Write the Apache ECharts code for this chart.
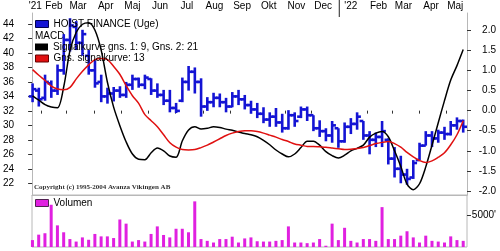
<!DOCTYPE html>
<html>
<head>
<meta charset="utf-8">
<script src="https://cdn.jsdelivr.net/npm/echarts@6/dist/echarts.min.js"></script>
<style>
html, body { margin: 0; padding: 0; background: #fff; }
#chart { width: 500px; height: 251px; }
</style>
</head>
<body>
<div id="chart"></div>
<script>
// ugedata (fredage)
const weeks = [
  '2021-01-22','2021-01-29','2021-02-05','2021-02-12','2021-02-19','2021-02-26','2021-03-05','2021-03-12','2021-03-19','2021-03-26',
  '2021-04-02','2021-04-09','2021-04-16','2021-04-23','2021-04-30','2021-05-07','2021-05-14','2021-05-21','2021-05-28','2021-06-04',
  '2021-06-11','2021-06-18','2021-06-25','2021-07-02','2021-07-09','2021-07-16','2021-07-23','2021-07-30','2021-08-06','2021-08-13',
  '2021-08-20','2021-08-27','2021-09-03','2021-09-10','2021-09-17','2021-09-24','2021-10-01','2021-10-08','2021-10-15','2021-10-22',
  '2021-10-29','2021-11-05','2021-11-12','2021-11-19','2021-11-26','2021-12-03','2021-12-10','2021-12-17','2021-12-24','2021-12-31',
  '2022-01-07','2022-01-14','2022-01-21','2022-01-28','2022-02-04','2022-02-11','2022-02-18','2022-02-25','2022-03-04','2022-03-11',
  '2022-03-18','2022-03-25','2022-04-01','2022-04-08','2022-04-15','2022-04-22','2022-04-29','2022-05-06','2022-05-13','2022-05-20'
];
const openP = [34.0,34.8,33.8,35.8,34.8,37.6,41.8,43.6,41.4,39.6,37.6,36.0,34.0,34.4,34.8,34.2,35.6,36.4,35.6,36.4,
  34.8,34.2,33.4,32.4,33.4,36.0,37.4,36.0,32.6,33.2,33.8,33.2,32.6,34.0,33.6,32.8,32.2,31.6,30.8,31.2,
  30.4,29.6,31.4,31.2,32.2,31.4,29.6,29.2,28.6,29.6,27.8,29.8,30.2,30.6,28.6,28.0,28.4,28.0,25.4,24.0,
  23.2,22.8,25.2,27.2,28.6,28.2,29.0,28.8,30.0,30.6];
const closeP = [35.0,33.6,36.0,34.8,37.6,41.8,43.8,41.4,42.6,37.6,35.8,34.0,34.4,34.8,34.2,35.6,36.4,35.6,36.6,34.8,
  34.2,33.4,32.4,32.0,36.0,37.4,36.0,32.6,33.2,33.8,33.2,32.6,34.0,33.6,32.8,32.2,31.6,30.8,31.2,30.4,
  29.6,31.4,30.6,32.2,31.4,29.6,29.2,28.6,30.0,27.8,29.8,30.2,31.2,28.6,28.0,28.4,29.2,25.4,24.0,23.2,
  22.6,24.8,27.2,28.6,28.2,29.0,28.8,30.0,30.6,29.8];
const lowP = [33.2,32.6,33.4,33.8,34.2,37.0,40.2,40.4,39.6,37.0,35.2,33.2,33.0,33.3,33.8,33.8,34.9,35.2,35.0,34.2,
  33.8,32.8,31.8,31.7,33.2,34.8,34.4,31.2,32.0,32.5,32.5,31.8,32.5,32.8,32.2,31.6,31.0,30.3,29.8,29.8,
  29.0,29.4,29.8,31.0,30.6,29.2,28.4,27.8,27.6,26.9,27.6,28.8,29.4,28.0,26.0,27.0,27.0,24.6,22.8,22.0,
  21.8,22.6,25.2,27.2,27.0,27.6,28.0,28.6,29.4,29.0];
const highP = [35.8,35.2,37.0,36.2,38.4,42.6,44.8,44.4,43.2,40.4,39.0,37.0,35.2,35.3,35.4,36.0,37.0,36.6,37.0,36.5,
  35.8,34.9,34.9,33.1,36.6,38.2,38.0,36.5,33.9,34.5,34.4,33.8,34.6,34.9,34.2,33.4,33.1,32.5,31.8,32.4,
  31.6,32.1,31.8,32.6,32.6,31.4,30.7,29.6,30.6,29.6,30.4,31.0,31.8,30.6,29.2,29.0,30.6,28.2,27.0,25.8,
  24.0,25.2,27.6,29.2,29.2,29.4,29.8,30.6,31.1,30.8];
// MACD: signalkurve (sort) og gns. signalkurve (rød)
const macdLine = [0.37,0.26,0.15,0.09,0.07,0.6,1.5,1.95,2.15,2.19,2.0,1.5,0.7,0.08,-0.38,-0.78,-1.08,-1.21,-1.22,-1.05,
  -0.93,-1.0,-1.13,-1.16,-0.75,-0.48,-0.40,-0.46,-0.44,-0.40,-0.42,-0.46,-0.49,-0.53,-0.57,-0.60,-0.65,-0.74,-0.85,-0.98,
  -1.08,-1.15,-1.08,-0.92,-0.76,-0.76,-0.86,-1.02,-1.12,-1.18,-1.11,-1.0,-0.94,-0.86,-0.66,-0.56,-0.52,-0.65,-1.0,-1.39,
  -1.83,-1.97,-1.82,-1.4,-0.86,-0.3,0.25,0.76,1.12,1.52];
const signalLine = [1.02,0.88,0.75,0.61,0.54,0.52,0.58,0.79,0.98,1.14,1.27,1.30,1.27,1.10,0.90,0.62,0.37,0.18,-0.10,-0.25,
  -0.40,-0.60,-0.80,-0.91,-0.97,-0.98,-0.97,-0.92,-0.86,-0.78,-0.70,-0.62,-0.56,-0.52,-0.50,-0.50,-0.52,-0.56,-0.61,-0.66,
  -0.72,-0.77,-0.83,-0.86,-0.89,-0.89,-0.90,-0.91,-0.93,-0.95,-0.97,-0.96,-0.94,-0.92,-0.87,-0.82,-0.79,-0.77,-0.82,-0.91,
  -1.04,-1.15,-1.24,-1.29,-1.25,-1.16,-1.05,-0.85,-0.6,-0.25];
// volumen (tusinder)
const volume = [1080,1930,2150,6600,3380,2300,1240,850,1500,1130,2040,1660,1660,1400,4300,3650,850,1080,850,2040,
  3220,1880,1500,2850,2850,2300,7130,1240,960,700,1240,1240,1610,700,1340,
  1500,900,850,850,960,1080,3220,700,700,600,700,1240,200,3650,1080,3000,960,700,1240,1240,
  960,6230,1240,1240,1770,2460,1500,700,1770,960,850,700,1660,1080,960];

const priceTicks = [22,24,26,28,30,32,34,36,38,40,42,44];
const macdTicks = [-2,-1.5,-1,-0.5,0,0.5,1,1.5,2];
const volumeTicks = [5000];
const monthTicks = ['2021-02-01','2021-03-01','2021-04-01','2021-05-01','2021-06-01','2021-07-01','2021-08-01','2021-09-01',
  '2021-10-01','2021-11-01','2021-12-01','2022-02-01','2022-03-01','2022-04-01','2022-05-01'];
const yearTicks = ['2022-01-01'];
const monthLabelDates = ['2021-01-25','2021-02-15','2021-03-14','2021-04-14','2021-05-14','2021-06-14','2021-07-14','2021-08-14',
  '2021-09-14','2021-10-14','2021-11-14','2021-12-14','2022-01-14','2022-02-14','2022-03-14','2022-04-14','2022-05-11'];
const monthLabels = ["'21",'Feb','Mar','Apr','Maj','Jun','Jul','Aug','Sep','Okt','Nov','Dec',"'22",'Feb','Mar','Apr','Maj'];

const t = s => new Date(s).getTime();
const xMin = t('2021-01-21T12:00:00Z');
const xMax = t('2022-05-24T06:00:00Z');
const labelTimes = monthLabelDates.map(t);

const font = "'Liberation Sans', Arial, sans-serif";
const fs = 10;
const blue = '#1414d4';
const grey = '#b8b8b8';

const chart = echarts.init(document.getElementById('chart'));

const baseGraphic = [
  { id: 'macdTitle', type: 'text', left: 35, top: 31, style: { text: 'MACD', fontSize: fs, fontFamily: font, fill: '#000' } },
  { id: 'copy', type: 'text', left: 34, top: 184, style: { text: 'Copyright (c) 1995-2004 Avanza Vikingen AB', fontSize: 7, fontWeight: 'bold', fontFamily: "'Liberation Serif', serif", fill: '#333' } }
];

const option = {
  backgroundColor: '#fff',
  animation: false,
  textStyle: { fontFamily: font },
  grid: [
    { left: 32, right: 33, top: 13, bottom: 56 },
    { left: 32, right: 33, top: 195, bottom: 4, show: true, borderColor: grey, borderWidth: 1 }
  ],
  legend: [
    {
      data: [{ name: 'HOIST FINANCE (Uge)', icon: 'rect', itemStyle: { color: blue, borderColor: '#000050', borderWidth: 1 } }],
      left: 35, top: 19, padding: 0, itemWidth: 13, itemHeight: 7, itemGap: 2,
      textStyle: { fontSize: fs, color: '#000', fontFamily: font }
    },
    {
      data: [{ name: 'Signalkurve gns. 1: 9, Gns. 2: 21', icon: 'rect', itemStyle: { color: '#000', borderWidth: 0 } }],
      left: 35, top: 42, padding: 0, itemWidth: 13, itemHeight: 7,
      textStyle: { fontSize: fs, color: '#000', fontFamily: font }
    },
    {
      data: [{ name: 'Gns. signalkurve: 13', icon: 'rect', itemStyle: { color: '#e01010', borderColor: '#600', borderWidth: 1 } }],
      left: 35, top: 53.5, padding: 0, itemWidth: 13, itemHeight: 7,
      textStyle: { fontSize: fs, color: '#000', fontFamily: font }
    },
    {
      data: [{ name: 'Volumen', icon: 'rect', itemStyle: { color: '#e020e0', borderColor: '#502050', borderWidth: 1 } }],
      left: 35, top: 198, padding: 0, itemWidth: 13, itemHeight: 7,
      textStyle: { fontSize: fs, color: '#000', fontFamily: font }
    }
  ],
  graphic: baseGraphic,
  xAxis: [
    {
      gridIndex: 0, type: 'value', position: 'top', min: xMin, max: xMax,
      axisLine: { show: false },
      splitLine: { show: false },
      axisTick: { show: true, inside: true, length: 3, customValues: monthTicks.map(t), lineStyle: { color: '#333' } },
      axisLabel: {
        customValues: labelTimes, margin: 2, fontSize: fs, color: '#000', fontFamily: font,
        hideOverlap: false,
        formatter: v => { const i = labelTimes.indexOf(v); return i >= 0 ? monthLabels[i] : ''; }
      }
    },
    {
      gridIndex: 0, type: 'value', position: 'bottom', min: xMin, max: xMax,
      axisLine: { show: true, lineStyle: { color: grey } },
      axisTick: { show: false }, axisLabel: { show: false }, splitLine: { show: false }
    },
    {
      gridIndex: 1, type: 'value', min: xMin, max: xMax,
      axisLine: { show: false }, axisTick: { show: false }, axisLabel: { show: false }, splitLine: { show: false }
    }
  ],
  yAxis: [
    {
      gridIndex: 0, type: 'value', position: 'left', min: 20.38, max: 45.52,
      axisLine: { show: true, lineStyle: { color: grey } },
      splitLine: { show: false },
      axisTick: { show: true, length: 4, customValues: priceTicks, lineStyle: { color: '#333' } },
      axisLabel: { customValues: priceTicks, margin: 18, fontSize: fs, color: '#000', fontFamily: font, align: 'right' }
    },
    {
      gridIndex: 0, type: 'value', position: 'right', min: -2.1, max: 2.43,
      axisLine: { show: true, lineStyle: { color: grey } },
      splitLine: { show: false },
      axisTick: { show: true, length: 4, customValues: macdTicks, lineStyle: { color: '#333' } },
      axisLabel: { customValues: macdTicks, margin: 29, align: 'right', fontSize: fs, color: '#000', fontFamily: font,
        formatter: v => v.toFixed(1) }
    },
    {
      gridIndex: 1, type: 'value', position: 'right', min: 0, max: 8125,
      axisLine: { show: false },
      splitLine: { show: false },
      axisTick: { show: true, length: 4, customValues: volumeTicks, lineStyle: { color: '#333' } },
      axisLabel: { customValues: volumeTicks, margin: 29, align: 'right', fontSize: fs, color: '#000', fontFamily: font,
        formatter: v => v + "'" }
    }
  ],
  series: [
    {
      name: 'HOIST FINANCE (Uge)',
      type: 'custom',
      xAxisIndex: 0, yAxisIndex: 0,
      color: blue,
      z: 2,
      encode: { x: 0, y: [1, 2, 3, 4] },
      data: weeks.map((w, i) => [t(w), openP[i], closeP[i], lowP[i], highP[i]]),
      renderItem: (params, api) => {
        const x = api.value(0);
        const o = api.coord([x, api.value(1)]);
        const c = api.coord([x, api.value(2)]);
        const l = api.coord([x, api.value(3)]);
        const h = api.coord([x, api.value(4)]);
        const style = { stroke: blue, lineWidth: 2.6 };
        return {
          type: 'group',
          children: [
            { type: 'line', shape: { x1: l[0], y1: l[1], x2: h[0], y2: h[1] }, style },
            { type: 'line', shape: { x1: o[0] - 3.8, y1: o[1], x2: o[0], y2: o[1] }, style },
            { type: 'line', shape: { x1: c[0], y1: c[1], x2: c[0] + 3.8, y2: c[1] }, style }
          ]
        };
      }
    },
    {
      name: 'Signalkurve gns. 1: 9, Gns. 2: 21',
      type: 'line',
      xAxisIndex: 0, yAxisIndex: 1,
      z: 3,
      showSymbol: false,
      smooth: 0.3,
      color: '#000',
      lineStyle: { color: '#000', width: 1.5 },
      data: weeks.map((w, i) => [t(w), macdLine[i]])
    },
    {
      name: 'Gns. signalkurve: 13',
      type: 'line',
      xAxisIndex: 0, yAxisIndex: 1,
      z: 3,
      showSymbol: false,
      smooth: 0.3,
      color: '#e01010',
      lineStyle: { color: '#e01010', width: 1.5 },
      data: weeks.map((w, i) => [t(w), signalLine[i]])
    },
    {
      name: 'Volumen',
      type: 'bar',
      xAxisIndex: 2, yAxisIndex: 2,
      barWidth: 3,
      color: '#e020e0',
      itemStyle: { color: '#e020e0' },
      data: weeks.map((w, i) => [t(w), volume[i]])
    }
  ]
};

chart.setOption(option);

// årsskifte: lang streg over den øverste akse
const yearMarks = yearTicks.map((d, i) => {
  const px = chart.convertToPixel({ xAxisIndex: 0 }, t(d));
  return { id: 'year' + i, type: 'line', shape: { x1: px, y1: 0, x2: px, y2: 17 }, style: { stroke: '#222', lineWidth: 1 } };
});
chart.setOption({ graphic: baseGraphic.concat(yearMarks) });
</script>
</body>
</html>
